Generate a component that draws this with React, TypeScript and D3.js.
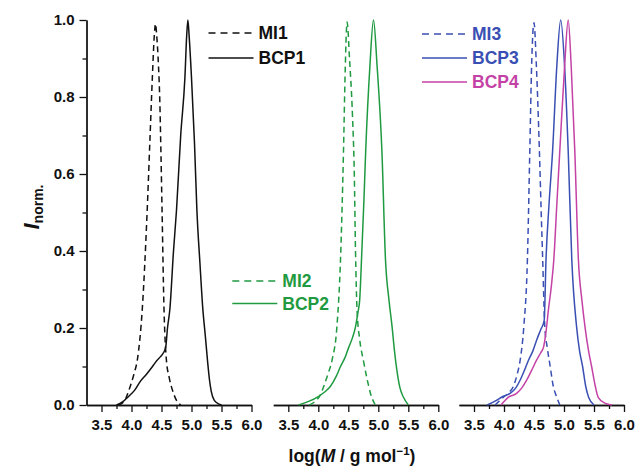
import React, { useEffect, useRef } from 'react';
import * as d3 from 'd3';

type Pt = [number, number];

// log(M) vs normalised intensity
const mi1: Pt[] = [
  [3.78, 0], [3.88, 0.01], [3.96, 0.04], [4.04, 0.08], [4.10, 0.12], [4.18, 0.25],
  [4.26, 0.5], [4.31, 0.7], [4.35, 0.86], [4.38, 0.96], [4.40, 0.99], [4.42, 0.96],
  [4.45, 0.88], [4.47, 0.8], [4.49, 0.66], [4.51, 0.5], [4.54, 0.26], [4.58, 0.12],
  [4.63, 0.07], [4.68, 0.04], [4.75, 0.012], [4.82, 0],
];
const bcp1: Pt[] = [
  [3.75, 0], [3.85, 0.008], [3.95, 0.022], [4.05, 0.038], [4.15, 0.062], [4.25, 0.08],
  [4.35, 0.1], [4.42, 0.115], [4.48, 0.125], [4.53, 0.135], [4.57, 0.15], [4.60, 0.2],
  [4.64, 0.25], [4.70, 0.4], [4.75, 0.506], [4.82, 0.7], [4.89, 0.85], [4.92, 0.96],
  [4.94, 1.0], [4.96, 0.96], [5.0, 0.85], [5.05, 0.68], [5.09, 0.506], [5.14, 0.37],
  [5.19, 0.247], [5.23, 0.18], [5.27, 0.11], [5.30, 0.065], [5.33, 0.035], [5.38, 0.012],
  [5.45, 0.003], [5.5, 0],
];
const mi2: Pt[] = [
  [3.85, 0], [3.95, 0.01], [4.03, 0.025], [4.09, 0.048], [4.16, 0.08], [4.23, 0.117],
  [4.31, 0.203], [4.37, 0.377], [4.42, 0.66], [4.45, 0.88], [4.48, 0.995], [4.52, 0.9],
  [4.57, 0.75], [4.60, 0.6], [4.62, 0.4], [4.645, 0.25], [4.69, 0.17], [4.75, 0.117],
  [4.81, 0.07], [4.87, 0.03], [4.95, 0],
];
const bcp2: Pt[] = [
  [3.67, 0], [3.85, 0.01], [4.0, 0.022], [4.1, 0.033], [4.2, 0.048], [4.3, 0.075],
  [4.37, 0.1], [4.45, 0.125], [4.51, 0.151], [4.57, 0.175], [4.62, 0.203], [4.66, 0.24],
  [4.69, 0.273], [4.72, 0.377], [4.76, 0.53], [4.79, 0.66], [4.86, 0.88], [4.92, 1.0],
  [4.98, 0.88], [5.06, 0.66], [5.12, 0.377], [5.18, 0.27], [5.23, 0.203], [5.27, 0.14],
  [5.31, 0.09], [5.36, 0.045], [5.42, 0.02], [5.5, 0],
];
const mi3: Pt[] = [
  [3.85, 0], [3.99, 0.02], [4.08, 0.032], [4.155, 0.048], [4.22, 0.08], [4.27, 0.117],
  [4.33, 0.203], [4.39, 0.377], [4.43, 0.66], [4.46, 0.88], [4.50, 0.993], [4.54, 0.88],
  [4.59, 0.66], [4.62, 0.5], [4.645, 0.377], [4.68, 0.203], [4.72, 0.15], [4.77, 0.1],
  [4.82, 0.05], [4.88, 0.02], [4.93, 0],
];
const bcp3: Pt[] = [
  [3.72, 0], [3.85, 0.01], [3.98, 0.022], [4.10, 0.03], [4.20, 0.045], [4.27, 0.065],
  [4.34, 0.09], [4.41, 0.117], [4.48, 0.14], [4.545, 0.169], [4.61, 0.195], [4.67, 0.22],
  [4.70, 0.377], [4.75, 0.52], [4.81, 0.66], [4.88, 0.88], [4.945, 1.0], [5.01, 0.88],
  [5.07, 0.66], [5.13, 0.377], [5.21, 0.203], [5.26, 0.14], [5.31, 0.1], [5.36, 0.05],
  [5.41, 0.02], [5.5, 0],
];
const bcp4: Pt[] = [
  [3.95, 0], [4.07, 0.02], [4.21, 0.03], [4.30, 0.045], [4.38, 0.065], [4.46, 0.09],
  [4.545, 0.117], [4.61, 0.135], [4.66, 0.151], [4.70, 0.19], [4.74, 0.247], [4.79, 0.31],
  [4.83, 0.377], [4.88, 0.52], [4.93, 0.66], [5.01, 0.88], [5.07, 1.0], [5.12, 0.88],
  [5.18, 0.66], [5.24, 0.377], [5.30, 0.27], [5.35, 0.203], [5.41, 0.14], [5.46, 0.1],
  [5.52, 0.05], [5.57, 0.02], [5.68, 0.005], [5.8, 0],
];

const xTicks = [3.5, 4.0, 4.5, 5.0, 5.5, 6.0];
const xMinorTicks = [3.75, 4.25, 4.75, 5.25, 5.75];
const yTicks = [0, 0.2, 0.4, 0.6, 0.8, 1.0];
const yMinorTicks = [0.1, 0.3, 0.5, 0.7, 0.9];

const BLACK = '#111111';
const GREEN = '#1f9a40';
const BLUE = '#3a4fb3';
const MAGENTA = '#c442a6';

const panels = [
  {
    left: 86.5,
    legend: { x: 122, y: 33, gap: 25 },
    series: [
      { name: 'MI1', data: mi1, color: BLACK, dashed: true },
      { name: 'BCP1', data: bcp1, color: BLACK, dashed: false },
    ],
  },
  {
    left: 273.3,
    legend: { x: -41, y: 281, gap: 22.5 },
    series: [
      { name: 'MI2', data: mi2, color: GREEN, dashed: true },
      { name: 'BCP2', data: bcp2, color: GREEN, dashed: false },
    ],
  },
  {
    left: 459,
    legend: { x: -37, y: 34, gap: 24 },
    series: [
      { name: 'MI3', data: mi3, color: BLUE, dashed: true },
      { name: 'BCP3', data: bcp3, color: BLUE, dashed: false },
      { name: 'BCP4', data: bcp4, color: MAGENTA, dashed: false },
    ],
  },
];

const FONT = '"Liberation Sans", Arial, Helvetica, sans-serif';

const App = () => {
  const svgRef = useRef<SVGSVGElement>(null);

  useEffect(() => {
    const svg = d3.select(svgRef.current);
    svg.selectAll('*').remove();

    const width = 636;
    const height = 467;
    const panelWidth = 165;
    const yScale = d3.scaleLinear().domain([0, 1]).range([405, 20]);

    svg.attr('width', width).attr('height', height);

    const styleAxis = (g) => {
      g.attr('font-family', FONT).attr('font-size', 15).attr('font-weight', 'bold');
      g.selectAll('path, line').attr('stroke', BLACK).attr('stroke-width', 1.3);
      g.selectAll('text').attr('fill', BLACK);
    };

    // y axis on the first panel only
    const yg = svg.append('g').attr('transform', `translate(${panels[0].left},0)`);
    yg.append('g')
      .call(d3.axisLeft(yScale).tickValues(yMinorTicks).tickSize(4).tickSizeOuter(0).tickFormat(() => ''))
      .call(styleAxis);
    yg.append('g')
      .call(d3.axisLeft(yScale).tickValues(yTicks).tickSize(7).tickSizeOuter(0).tickPadding(5).tickFormat(d3.format('.1f')))
      .call(styleAxis);

    panels.forEach((p) => {
      const xScale = d3.scaleLinear().domain([3.25, 6.0]).range([p.left, p.left + panelWidth]);

      const xg = svg.append('g').attr('transform', `translate(0,${yScale(0)})`);
      xg.append('g')
        .call(d3.axisBottom(xScale).tickValues(xMinorTicks).tickSize(4).tickSizeOuter(0).tickFormat(() => ''))
        .call(styleAxis);
      xg.append('g')
        .call(d3.axisBottom(xScale).tickValues(xTicks).tickSize(7).tickSizeOuter(0).tickPadding(7.5).tickFormat(d3.format('.1f')))
        .call(styleAxis);

      const line = d3.line<Pt>()
        .x(d => xScale(d[0]))
        .y(d => yScale(d[1]))
        .curve(d3.curveMonotoneX);

      p.series.forEach((s) => {
        svg.append('path')
          .datum(s.data)
          .attr('d', line)
          .attr('fill', 'none')
          .attr('stroke', s.color)
          .attr('stroke-width', 1.5)
          .attr('stroke-dasharray', s.dashed ? '6,4' : null);
      });

      // legend
      const lg = svg.append('g').attr('transform', `translate(${p.left + p.legend.x},${p.legend.y})`);
      p.series.forEach((s, i) => {
        const y = i * p.legend.gap;
        lg.append('line')
          .attr('x1', 0).attr('x2', 45)
          .attr('y1', y).attr('y2', y)
          .attr('stroke', s.color)
          .attr('stroke-width', 1.6)
          .attr('stroke-dasharray', s.dashed ? '7,5' : null);
        lg.append('text')
          .attr('x', 50)
          .attr('y', y + 6.3)
          .text(s.name)
          .attr('fill', s.color)
          .attr('font-family', FONT)
          .attr('font-size', 17.5)
          .attr('font-weight', 'bold');
      });
    });

    // x axis title
    const xt = svg.append('text')
      .attr('x', 352)
      .attr('y', 462)
      .attr('text-anchor', 'middle')
      .attr('font-family', FONT)
      .attr('font-size', 17.5)
      .attr('font-weight', 'bold')
      .attr('fill', BLACK);
    xt.append('tspan').text('log(');
    xt.append('tspan').attr('font-style', 'italic').text('M');
    xt.append('tspan').text(' / g mol');
    xt.append('tspan').attr('dy', -7).attr('font-size', 11.5).text('\u22121');
    xt.append('tspan').attr('dy', 7).text(')');

    // y axis title
    const yt = svg.append('text')
      .attr('transform', 'translate(39,207) rotate(-90)')
      .attr('text-anchor', 'middle')
      .attr('font-family', FONT)
      .attr('font-weight', 'bold')
      .attr('fill', BLACK);
    yt.append('tspan').attr('font-style', 'italic').attr('font-size', 22).text('I');
    yt.append('tspan').attr('font-size', 14).attr('dy', 4).text('norm.');
  }, []);

  return (
    <div>
      <svg ref={svgRef} style={{ position: 'absolute', left: 0, top: 0, background: '#fff' }}></svg>
    </div>
  );
};

export default App;
